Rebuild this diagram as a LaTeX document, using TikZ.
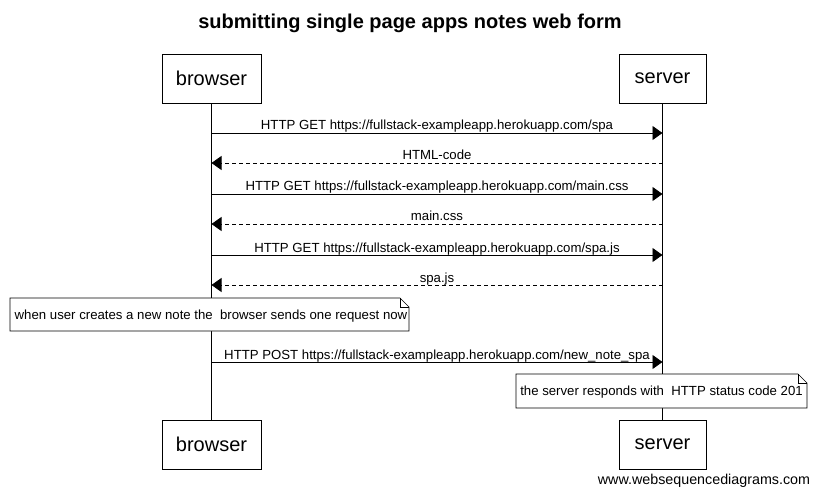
\documentclass[tikz,border=0pt]{standalone}
\usepackage{fontspec}
\setmainfont{Liberation Sans}
\usetikzlibrary{arrows.meta}
\begin{document}
\begin{tikzpicture}[x=1pt,y=-1pt,
  actor/.style={draw=black,line width=0.8pt,fill=white,minimum width=99pt,minimum height=49pt,inner sep=0pt,font=\fontsize{20}{24}\selectfont},
  msg/.style={line width=0.8pt,-{Triangle[length=10pt,width=14pt]}},
  reply/.style={msg,dash pattern=on 4pt off 3pt},
  lbl/.style={font=\fontsize{13.2}{15}\selectfont,inner sep=0pt,anchor=base},
  life/.style={line width=0.8pt},
  notebox/.style={draw=black,line width=0.6pt,fill=white}
]
\useasboundingbox (0,0) rectangle (818,494);
\node[font=\bfseries\fontsize{20}{24}\selectfont,inner sep=0pt,anchor=base] (title) at (410,29) {submitting single page apps notes web form};
% actors
\node[actor] (b1) at (211.5,78.5) {browser};
\node[actor,minimum width=87pt] (s1) at (662.5,78.5) {server};
\node[actor] (b2) at (211.5,444.5) {browser};
\node[actor,minimum width=87pt] (s2) at (662.5,444.5) {server};
\draw[life] (b1.south) -- (b2.north);
\draw[life] (s1.south) -- (s2.north);
% coordinates on lifelines
\foreach \n/\y in {1/133,2/163,3/194,4/224,5/255,6/285,7/362}{
  \coordinate (bl\n) at (211.5,\y);
  \coordinate (sl\n) at (662.5,\y);
}
\draw[msg] (bl1) -- (sl1);
\draw[reply] (sl2) -- (bl2);
\draw[msg] (bl3) -- (sl3);
\draw[reply] (sl4) -- (bl4);
\draw[msg] (bl5) -- (sl5);
\draw[reply] (sl6) -- (bl6);
\draw[msg] (bl7) -- (sl7);
\node[lbl] (m1) at (437,130) {HTTP GET https://fullstack-exampleapp.herokuapp.com/spa};
\node[lbl] (m2) at (437,160) {HTML-code};
\node[lbl] (m3) at (437,191) {HTTP GET https://fullstack-exampleapp.herokuapp.com/main.css};
\node[lbl] (m4) at (437,221) {main.css};
\node[lbl] (m5) at (437,252) {HTTP GET https://fullstack-exampleapp.herokuapp.com/spa.js};
\node[lbl] (m6) at (437,282) {spa.js};
\node[lbl] (m7) at (437,359) {HTTP POST https://fullstack-exampleapp.herokuapp.com/new\_note\_spa};
% note 1
\draw[notebox] (10,298) -- (400,298) -- (409,307) -- (409,331) -- (10,331) -- cycle;
\draw[line width=0.6pt] (400,298) -- (400,307) -- (409,307);
\node[lbl] (n1) at (211,319) {when user creates a new note the\ \ browser sends one request now};
% note 2
\draw[notebox] (516,374) -- (798,374) -- (807,383) -- (807,408) -- (516,408) -- cycle;
\draw[line width=0.6pt] (798,374) -- (798,383) -- (807,383);
\node[lbl] (n2) at (661.5,395) {the server responds with\ \ HTTP status code 201};
\node[font=\fontsize{14.3}{16}\selectfont,inner sep=0pt,anchor=base] (wm) at (704,484) {www.websequencediagrams.com};
\end{tikzpicture}
\end{document}
